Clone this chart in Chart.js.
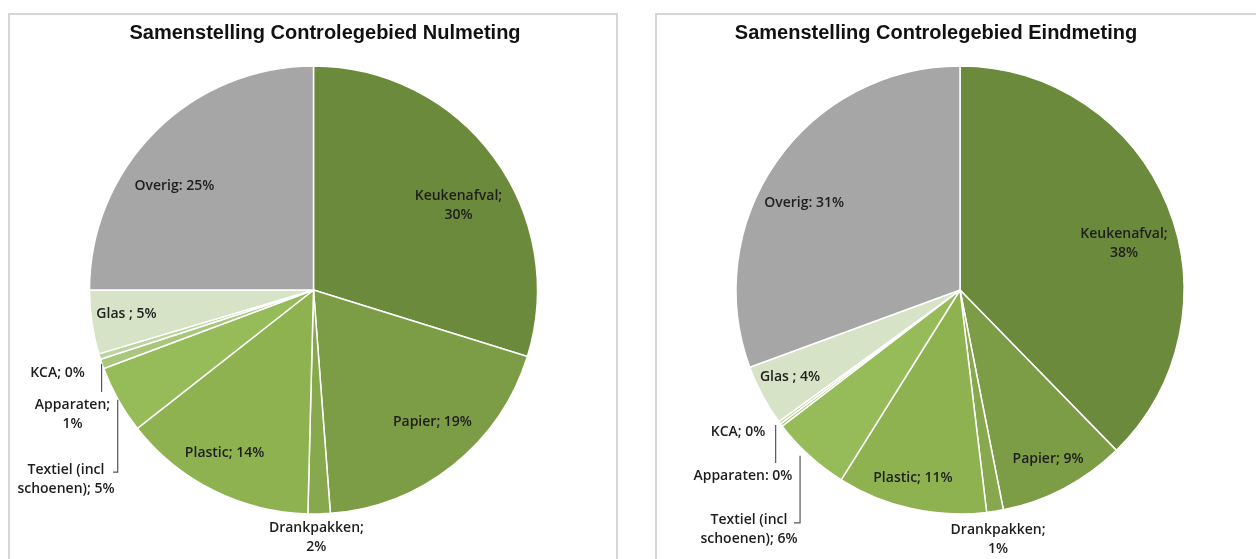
<!DOCTYPE html>
<html>
<head>
<meta charset="utf-8">
<script src="https://cdn.jsdelivr.net/npm/chart.js@4.4.1/dist/chart.umd.min.js"></script>
<style>
body{margin:0;background:#fff;width:1256px;height:559px;overflow:hidden;position:relative;}
.box{position:absolute;border:2px solid #d6d6d6;box-sizing:border-box;}
.wrap{position:absolute;top:0;width:628px;height:559px;}
</style>
</head>
<body>
<div class="box" style="left:8px;top:13px;width:610px;height:560px"></div>
<div class="box" style="left:655px;top:13px;width:620px;height:560px"></div>
<div class="wrap" style="left:0"><canvas id="nul" width="628" height="559"></canvas></div>
<div class="wrap" style="left:628px"><canvas id="eind" width="628" height="559"></canvas></div>
<script>
// categorieen (kloksgewijs vanaf 12 uur)
const categories = ['Keukenafval','Papier','Drankpakken','Plastic','Textiel (incl schoenen)','Apparaten','KCA','Glas','Overig'];
const nulmeting  = [29.8, 19.0, 1.6, 14.0, 4.9, 0.7, 0.4, 4.6, 25.0];
const eindmeting = [37.7, 9.2, 1.2, 10.8, 5.7, 0.2, 0.2, 4.4, 30.6];
const titles = ['Samenstelling Controlegebied Nulmeting', 'Samenstelling Controlegebied Eindmeting'];

const colors = ['#6b8a3b','#7c9c46','#87a84c','#8fb251','#96bb59','#a9c77a','#bcd49e','#d6e3c6','#a6a6a6'];

// label tekst per grafiek, {p} = afgerond percentage
const textNul = [['Keukenafval;','{p}'],['Papier; {p}'],['Drankpakken;','{p}'],['Plastic; {p}'],['Textiel (incl','schoenen); {p}'],['Apparaten;','{p}'],['KCA; {p}'],['Glas ; {p}'],['Overig: {p}']];
const textEind = [['Keukenafval;','{p}'],['Papier; {p}'],['Drankpakken;','{p}'],['Plastic; {p}'],['Textiel (incl','schoenen); {p}'],['Apparaten: {p}'],['KCA; {p}'],['Glas ; {p}'],['Overig: {p}']];

// label plaats t.o.v. middelpunt, in eenheden van de straal
const posNul = [[0.647,-0.375],[0.531,0.589],[0.013,1.105],[-0.397,0.728],[-1.105,0.848],[-1.076,0.556],[-1.143,0.371],[-0.835,0.107],[-0.621,-0.464]];
const posEind = [[0.732,-0.208],[0.393,0.754],[0.170,1.116],[-0.21,0.839],[-0.942,1.071],[-0.969,0.830],[-0.991,0.634],[-0.759,0.388],[-0.696,-0.388]];
// verbindingslijnen (na het punt op de rand)
const leadNul = {4:[[-0.874,0.813],[-0.895,0.813]], 5:[[-0.946,0.455]]};
const leadEind = {4:[[-0.714,1.040],[-0.741,1.040]], 5:[[-0.823,0.772]]};

const labelPlugin = {
  id: 'excelLabels',
  afterDatasetsDraw(chart, args, opts) {
    const ctx = chart.ctx;
    const meta = chart.getDatasetMeta(0);
    const vals = chart.data.datasets[0].data;
    ctx.save();
    // titel
    ctx.font = 'bold 20px "Liberation Sans", Arial, sans-serif';
    ctx.fillStyle = '#111';
    ctx.textAlign = 'center';
    ctx.textBaseline = 'middle';
    ctx.fillText(opts.title, opts.titleX, 33);

    // verbindingslijnen
    ctx.strokeStyle = '#555';
    ctx.lineWidth = 1.2;
    Object.keys(opts.lead).forEach(k => {
      const arc = meta.data[k];
      const mid = (arc.startAngle + arc.endAngle) / 2;
      const r = arc.outerRadius;
      const pts = opts.lead[k];
      const sx = arc.x + Math.cos(mid) * r;
      ctx.beginPath();
      // eerste stuk recht naar beneden vanaf de rand
      ctx.moveTo(arc.x + pts[0][0] * r, arc.y + Math.sin(mid) * r);
      pts.forEach(p => ctx.lineTo(arc.x + p[0] * r, arc.y + p[1] * r));
      ctx.stroke();
    });

    // labels
    ctx.font = '600 14px "Open Sans", sans-serif';
    ctx.fillStyle = '#1e1e1e';
    meta.data.forEach((arc, i) => {
      const r = arc.outerRadius;
      const cx = arc.x + opts.pos[i][0] * r;
      const cy = arc.y + opts.pos[i][1] * r;
      const lines = opts.text[i].map(s => s.replace('{p}', Math.round(vals[i]) + '%'));
      const lh = 19;
      lines.forEach((s, j) => {
        ctx.fillText(s, cx, cy + (j - (lines.length - 1) / 2) * lh);
      });
    });
    ctx.restore();
  }
};

function makePie(id, values, pad, title, titleX, text, pos, lead) {
  return new Chart(document.getElementById(id), {
    type: 'pie',
    data: {
      labels: categories,
      datasets: [{
        data: values,
        backgroundColor: colors,
        borderColor: '#ffffff',
        borderWidth: 1.5,
        radius: 224
      }]
    },
    options: {
      responsive: false,
      animation: false,
      layout: { padding: pad },
      plugins: {
        legend: { display: false },
        tooltip: { enabled: false },
        excelLabels: { title: title, titleX: titleX, text: text, pos: pos, lead: lead }
      }
    },
    plugins: [labelPlugin]
  });
}

makePie('nul', nulmeting, {top: 66, bottom: 45, left: 89, right: 90}, titles[0], 325, textNul, posNul, leadNul);
makePie('eind', eindmeting, {top: 66, bottom: 45, left: 108, right: 72}, titles[1], 308, textEind, posEind, leadEind);
</script>
</body>
</html>
